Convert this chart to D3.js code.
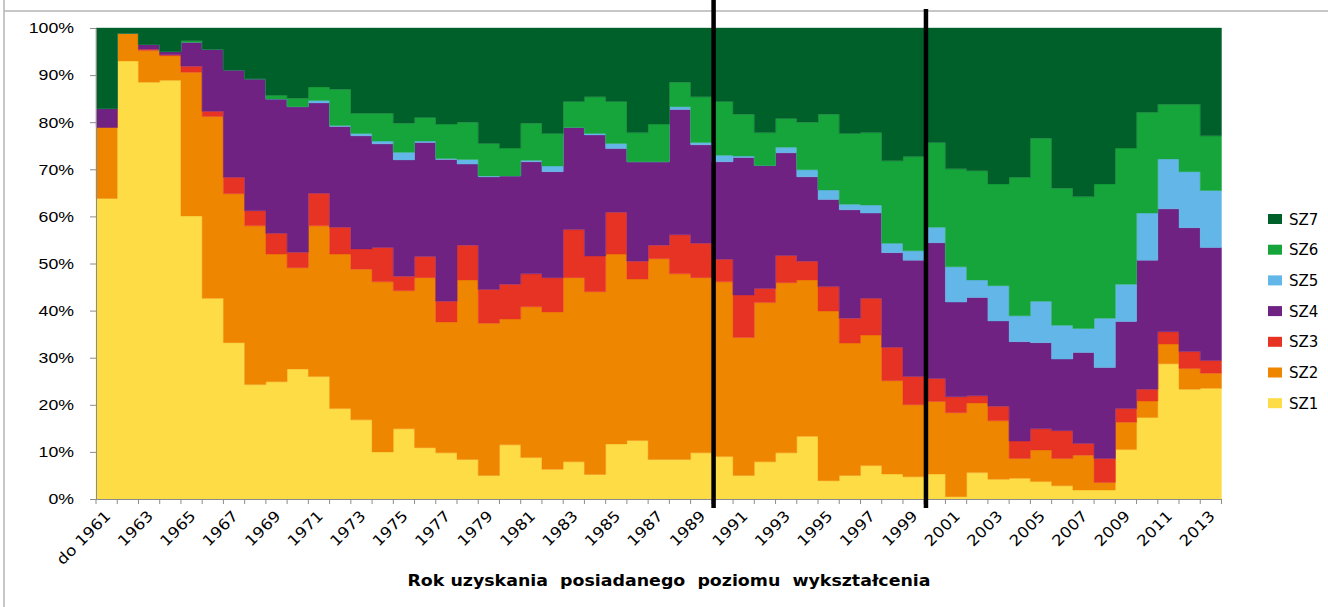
<!DOCTYPE html>
<html>
<head>
<meta charset="utf-8">
<script src="https://cdn.jsdelivr.net/npm/d3@7"></script>
<style>
    body { margin: 0; background: #fff; }
    svg { display: block; font-family: "DejaVu Sans", sans-serif; }
</style>
</head>
<body>
<svg id="chart" width="1328" height="607"></svg>
<script>
// Years (first one groups everything up to 1961)
const years = ["do 1961"];
for (let y = 1962; y <= 2013; y++) years.push(String(y));

const seriesNames = ["SZ1", "SZ2", "SZ3", "SZ4", "SZ5", "SZ6", "SZ7"];
const seriesColors = ["#fddc45", "#ef8600", "#e63323", "#6f2282", "#62b7e8", "#15a53a", "#00602a"];

// shares in %, one value per year
const sz1 = [63.8, 93.0, 88.5, 88.9, 60.1, 42.6, 33.2, 24.3, 24.9, 27.6, 26.0, 19.2, 16.8, 10.0, 14.9, 10.9, 9.8, 8.4, 5.0, 11.5,
    8.8, 6.3, 7.9, 5.2, 11.7, 12.4, 8.4, 8.4, 9.8, 9.0, 5.0, 7.9, 9.8, 13.3, 3.9, 5.0, 7.1, 5.3, 4.7, 5.3,
    0.5, 5.6, 4.2, 4.4, 3.7, 2.8, 1.9, 1.9, 10.5, 17.3, 28.7, 23.3, 23.5];
const sz2 = [15.1, 5.9, 6.7, 5.2, 30.5, 38.6, 31.6, 33.7, 27.1, 21.5, 32.0, 32.8, 32.0, 36.1, 29.3, 36.1, 27.8, 38.1, 32.3, 26.7,
    32.0, 33.4, 39.1, 38.8, 40.3, 34.3, 42.6, 39.4, 37.2, 37.1, 29.3, 33.8, 36.1, 33.2, 36.0, 28.1, 27.7, 19.8, 15.3, 15.4,
    17.8, 14.8, 12.4, 4.2, 6.7, 5.8, 7.4, 1.6, 5.8, 3.5, 4.2, 4.4, 3.2];
const sz3 = [0, 0, 0.3, 0.2, 1.3, 1.1, 3.5, 3.2, 4.4, 3.3, 6.9, 5.7, 4.3, 7.3, 3.1, 4.5, 4.4, 7.4, 7.2, 7.4,
    7.0, 7.3, 10.2, 7.6, 8.9, 3.8, 2.9, 8.3, 7.3, 4.8, 9.0, 3.0, 5.8, 4.0, 5.2, 5.3, 7.8, 7.1, 6.0, 4.9,
    3.4, 1.5, 3.1, 3.7, 4.5, 5.9, 2.5, 5.1, 2.9, 2.5, 2.6, 3.6, 2.7];
const sz4 = [4.0, 0, 1.0, 0.7, 5.1, 13.2, 22.8, 28.0, 28.5, 30.9, 19.2, 21.4, 24.0, 22.0, 24.7, 24.2, 30.1, 17.2, 23.9, 23.0,
    23.8, 22.5, 21.7, 25.7, 13.5, 21.1, 17.7, 26.6, 20.9, 20.7, 29.2, 26.1, 21.8, 17.9, 18.5, 23.0, 18.1, 20.1, 24.7, 28.8,
    20.1, 20.9, 18.1, 21.1, 18.3, 15.2, 19.3, 19.3, 18.5, 27.4, 26.1, 26.3, 24.0];
const sz5 = [0, 0, 0, 0, 0, 0, 0, 0, 0, 0, 0.5, 0.2, 0.5, 0.6, 1.6, 0.3, 0.2, 1.0, 0.2, 0,
    0.3, 1.2, 0, 0.3, 1.1, 0, 0, 0.6, 0.5, 1.4, 0.3, 0, 1.2, 1.5, 2.0, 1.2, 1.7, 2.0, 2.0, 3.3,
    7.5, 3.7, 7.5, 5.5, 8.8, 7.2, 5.1, 10.5, 7.9, 10.0, 10.6, 11.9, 12.1];
const sz6 = [0, 0, 0, 0, 0.3, 0, 0, 0, 0.8, 1.8, 2.9, 7.7, 4.3, 5.9, 6.2, 5.0, 7.3, 7.9, 6.9, 5.9,
    7.9, 6.9, 5.5, 7.8, 8.9, 6.2, 8.0, 5.2, 9.7, 11.4, 8.9, 7.0, 6.1, 10.1, 16.1, 15.0, 15.4, 17.5, 20.0, 18.0,
    20.8, 23.2, 21.6, 29.4, 34.6, 29.1, 28.0, 28.5, 28.9, 21.4, 11.6, 14.3, 11.6];
const sz7 = [17.1, 1.1, 3.5, 5.0, 2.7, 4.5, 8.9, 10.8, 14.3, 14.9, 12.5, 13.0, 18.1, 18.1, 20.2, 19.0, 20.4, 20.0, 24.5, 25.5,
    20.2, 22.4, 15.6, 14.6, 15.6, 22.2, 20.4, 11.5, 14.6, 15.6, 18.3, 22.2, 19.2, 20.0, 18.3, 22.4, 22.2, 28.2, 27.3, 24.3,
    29.9, 30.3, 33.1, 31.7, 23.4, 34.0, 35.8, 33.1, 25.5, 17.9, 16.2, 16.2, 22.9];

const yTicks = [0, 10, 20, 30, 40, 50, 60, 70, 80, 90, 100];
// the two marked cuts: before 1990 and before 2000
const markerYears = ["1990", "2000"];

(function() {
    const svg = d3.select("#chart");
    const left = 96, right = 1221.5, top = 28, bottom = 499;

    const rows = years.map((year, i) => {
        const row = { year: year };
        [sz1, sz2, sz3, sz4, sz5, sz6, sz7].forEach((s, k) => { row[seriesNames[k]] = s[i]; });
        return row;
    });

    const x = d3.scaleBand().domain(years).range([left, right]).paddingInner(0).paddingOuter(0);
    const y = d3.scaleLinear().domain([0, 100]).range([bottom, top]);
    const bw = x.bandwidth();

    const stacked = d3.stack().keys(seriesNames).offset(d3.stackOffsetExpand)(rows);

    // outer frame pieces visible in the picture
    svg.append("line").attr("x1", 4).attr("x2", 1328).attr("y1", 11).attr("y2", 11)
        .attr("stroke", "#b4b4b4").attr("stroke-width", 1.5);
    svg.append("line").attr("x1", 4).attr("x2", 4).attr("y1", 0).attr("y2", 607)
        .attr("stroke", "#b4b4b4").attr("stroke-width", 1.5);

    // step shaped stacked areas
    const area = d3.area()
        .x(p => p.x)
        .y0(p => y(p.d[0] * 100))
        .y1(p => y(p.d[1] * 100));

    svg.append("g")
        .selectAll("path")
        .data(stacked)
        .enter()
        .append("path")
        .attr("fill", (d, i) => seriesColors[i])
        .attr("stroke", (d, i) => seriesColors[i])
        .attr("stroke-width", 0.4)
        .attr("d", s => {
            const pts = [];
            s.forEach(d => {
                pts.push({ x: x(d.data.year), d: d });
                pts.push({ x: x(d.data.year) + bw, d: d });
            });
            return area(pts);
        });

    // y axis
    const yAxis = svg.append("g")
        .attr("transform", "translate(" + left + ",0)")
        .call(d3.axisLeft(y).tickValues(yTicks).tickSize(6).tickSizeOuter(0).tickFormat(d => d + "%"));
    yAxis.select(".domain").attr("stroke", "#8c8c8c");
    yAxis.selectAll(".tick line").attr("stroke", "#8c8c8c");
    yAxis.selectAll(".tick text")
        .attr("font-size", 15)
        .attr("fill", "#000")
        .attr("x", -22 / 1.18)
        .attr("transform", "scale(1.18,1)");

    // x axis line + ticks at every column border
    const xg = svg.append("g");
    xg.append("line").attr("x1", left).attr("x2", right).attr("y1", bottom + 0.5).attr("y2", bottom + 0.5)
        .attr("stroke", "#8c8c8c");
    xg.selectAll(".xt")
        .data(years.concat(["end"]))
        .enter()
        .append("line")
        .attr("class", "xt")
        .attr("x1", (d, i) => i < years.length ? x(d) : right)
        .attr("x2", (d, i) => i < years.length ? x(d) : right)
        .attr("y1", bottom)
        .attr("y2", bottom + 5)
        .attr("stroke", "#8c8c8c");

    xg.selectAll(".xl")
        .data(years.filter((d, i) => i % 2 === 0))
        .enter()
        .append("text")
        .attr("class", "xl")
        .attr("text-anchor", "end")
        .attr("font-size", 15)
        .attr("transform", d => "translate(" + (x(d) + bw / 2 + 5) + "," + (bottom + 18) + ") rotate(-45) scale(1.12,1)")
        .text(d => d);

    // axis title (stretched like the source picture)
    svg.append("text")
        .attr("transform", "translate(669,586) scale(1.16,1)")
        .attr("text-anchor", "middle")
        .attr("font-size", 15)
        .attr("font-weight", "bold")
        .style("white-space", "pre")
        .text("Rok uzyskania  posiadanego  poziomu  wykształcenia");

    // thick black marker lines
    svg.selectAll(".marker")
        .data(markerYears)
        .enter()
        .append("rect")
        .attr("class", "marker")
        .attr("x", d => x(d) - 0.5)
        .attr("y", (d, i) => i === 0 ? 0 : 9)
        .attr("width", 4.5)
        .attr("height", (d, i) => i === 0 ? 508 : 499)
        .attr("fill", "#000");

    // legend, top item is SZ7
    const legend = svg.append("g")
        .selectAll("g")
        .data(seriesNames.slice().reverse())
        .enter()
        .append("g")
        .attr("transform", (d, i) => "translate(1268," + (219 + i * 30.7) + ")");
    legend.append("rect")
        .attr("x", 0).attr("y", -5).attr("width", 14).attr("height", 10)
        .attr("fill", d => seriesColors[seriesNames.indexOf(d)]);
    legend.append("text")
        .attr("x", 21).attr("y", 5.5)
        .attr("font-size", 15)
        .text(d => d);
})();
</script>
</body>
</html>
